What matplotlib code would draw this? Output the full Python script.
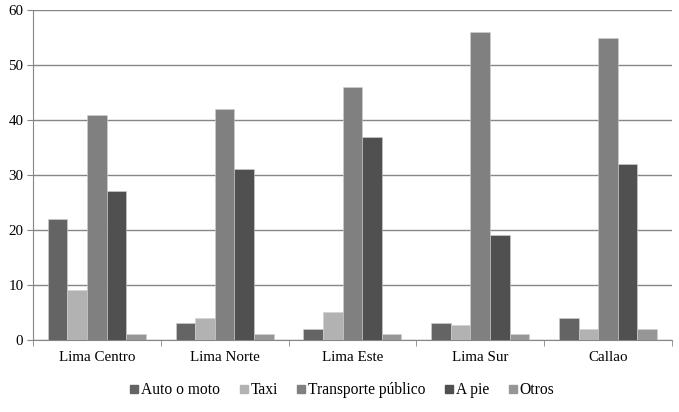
import matplotlib
matplotlib.use("Agg")
import matplotlib.pyplot as plt
from matplotlib.lines import Line2D
import numpy as np

categories = ["Lima Centro", "Lima Norte", "Lima Este", "Lima Sur", "Callao"]
series_names = ["Auto o moto", "Taxi", "Transporte público", "A pie", "Otros"]
auto = [22, 3, 2, 3, 4]
taxi = [9, 4, 5, 2.8, 2]
transporte = [41, 42, 46, 56, 55]
a_pie = [27, 31, 37, 19, 32]
otros = [1, 1, 1, 1, 2]
values = [auto, taxi, transporte, a_pie, otros]
colors = ["#646464", "#b2b2b2", "#808080", "#505050", "#969696"]

plt.rcParams['font.family'] = ['Liberation Serif', 'DejaVu Serif']

fig = plt.figure(figsize=(6.79, 4.12), dpi=100)
ax = fig.add_axes([0.0486, 0.1748, 0.941, 0.8009])

x = np.arange(len(categories))
group_w = 0.767
bw = group_w / len(series_names)
for i, (vals, c) in enumerate(zip(values, colors)):
    offs = -group_w / 2 + bw * (i + 0.5)
    ax.bar(x + offs, vals, width=bw, color=c, edgecolor="#d0d0d0", linewidth=0.4, zorder=3)

ax.set_xlim(-0.5, len(categories) - 0.5)
ax.set_ylim(0, 60)
ax.set_yticks(range(0, 61, 10))
ax.yaxis.grid(True, color="#868686", linewidth=1.0, zorder=0)
ax.set_axisbelow(True)

ax.set_xticks(x)
ax.set_xticklabels(categories)
ax.set_xticks(np.arange(-0.5, len(categories), 1.0), minor=True)
ax.tick_params(axis='x', which='major', length=0, pad=8, labelsize=10.8)
ax.tick_params(axis='x', which='minor', length=4, color="#868686", direction='out')
ax.tick_params(axis='y', length=4, color="#868686", labelsize=10.8, pad=3)

for s in ["top", "right"]:
    ax.spines[s].set_visible(False)
ax.spines["left"].set_color("#868686")
ax.spines["bottom"].set_color("#868686")

handles = [Line2D([0], [0], marker='s', linestyle='none', markersize=5.5,
                  markerfacecolor=c, markeredgecolor=c) for c in colors]
fig.legend(handles, series_names, loc='center', bbox_to_anchor=(0.502, 0.053),
           ncol=5, frameon=False, fontsize=11.2, handletextpad=0.0,
           columnspacing=1.05, handlelength=0.9)

fig.savefig("out.png", dpi=100)
